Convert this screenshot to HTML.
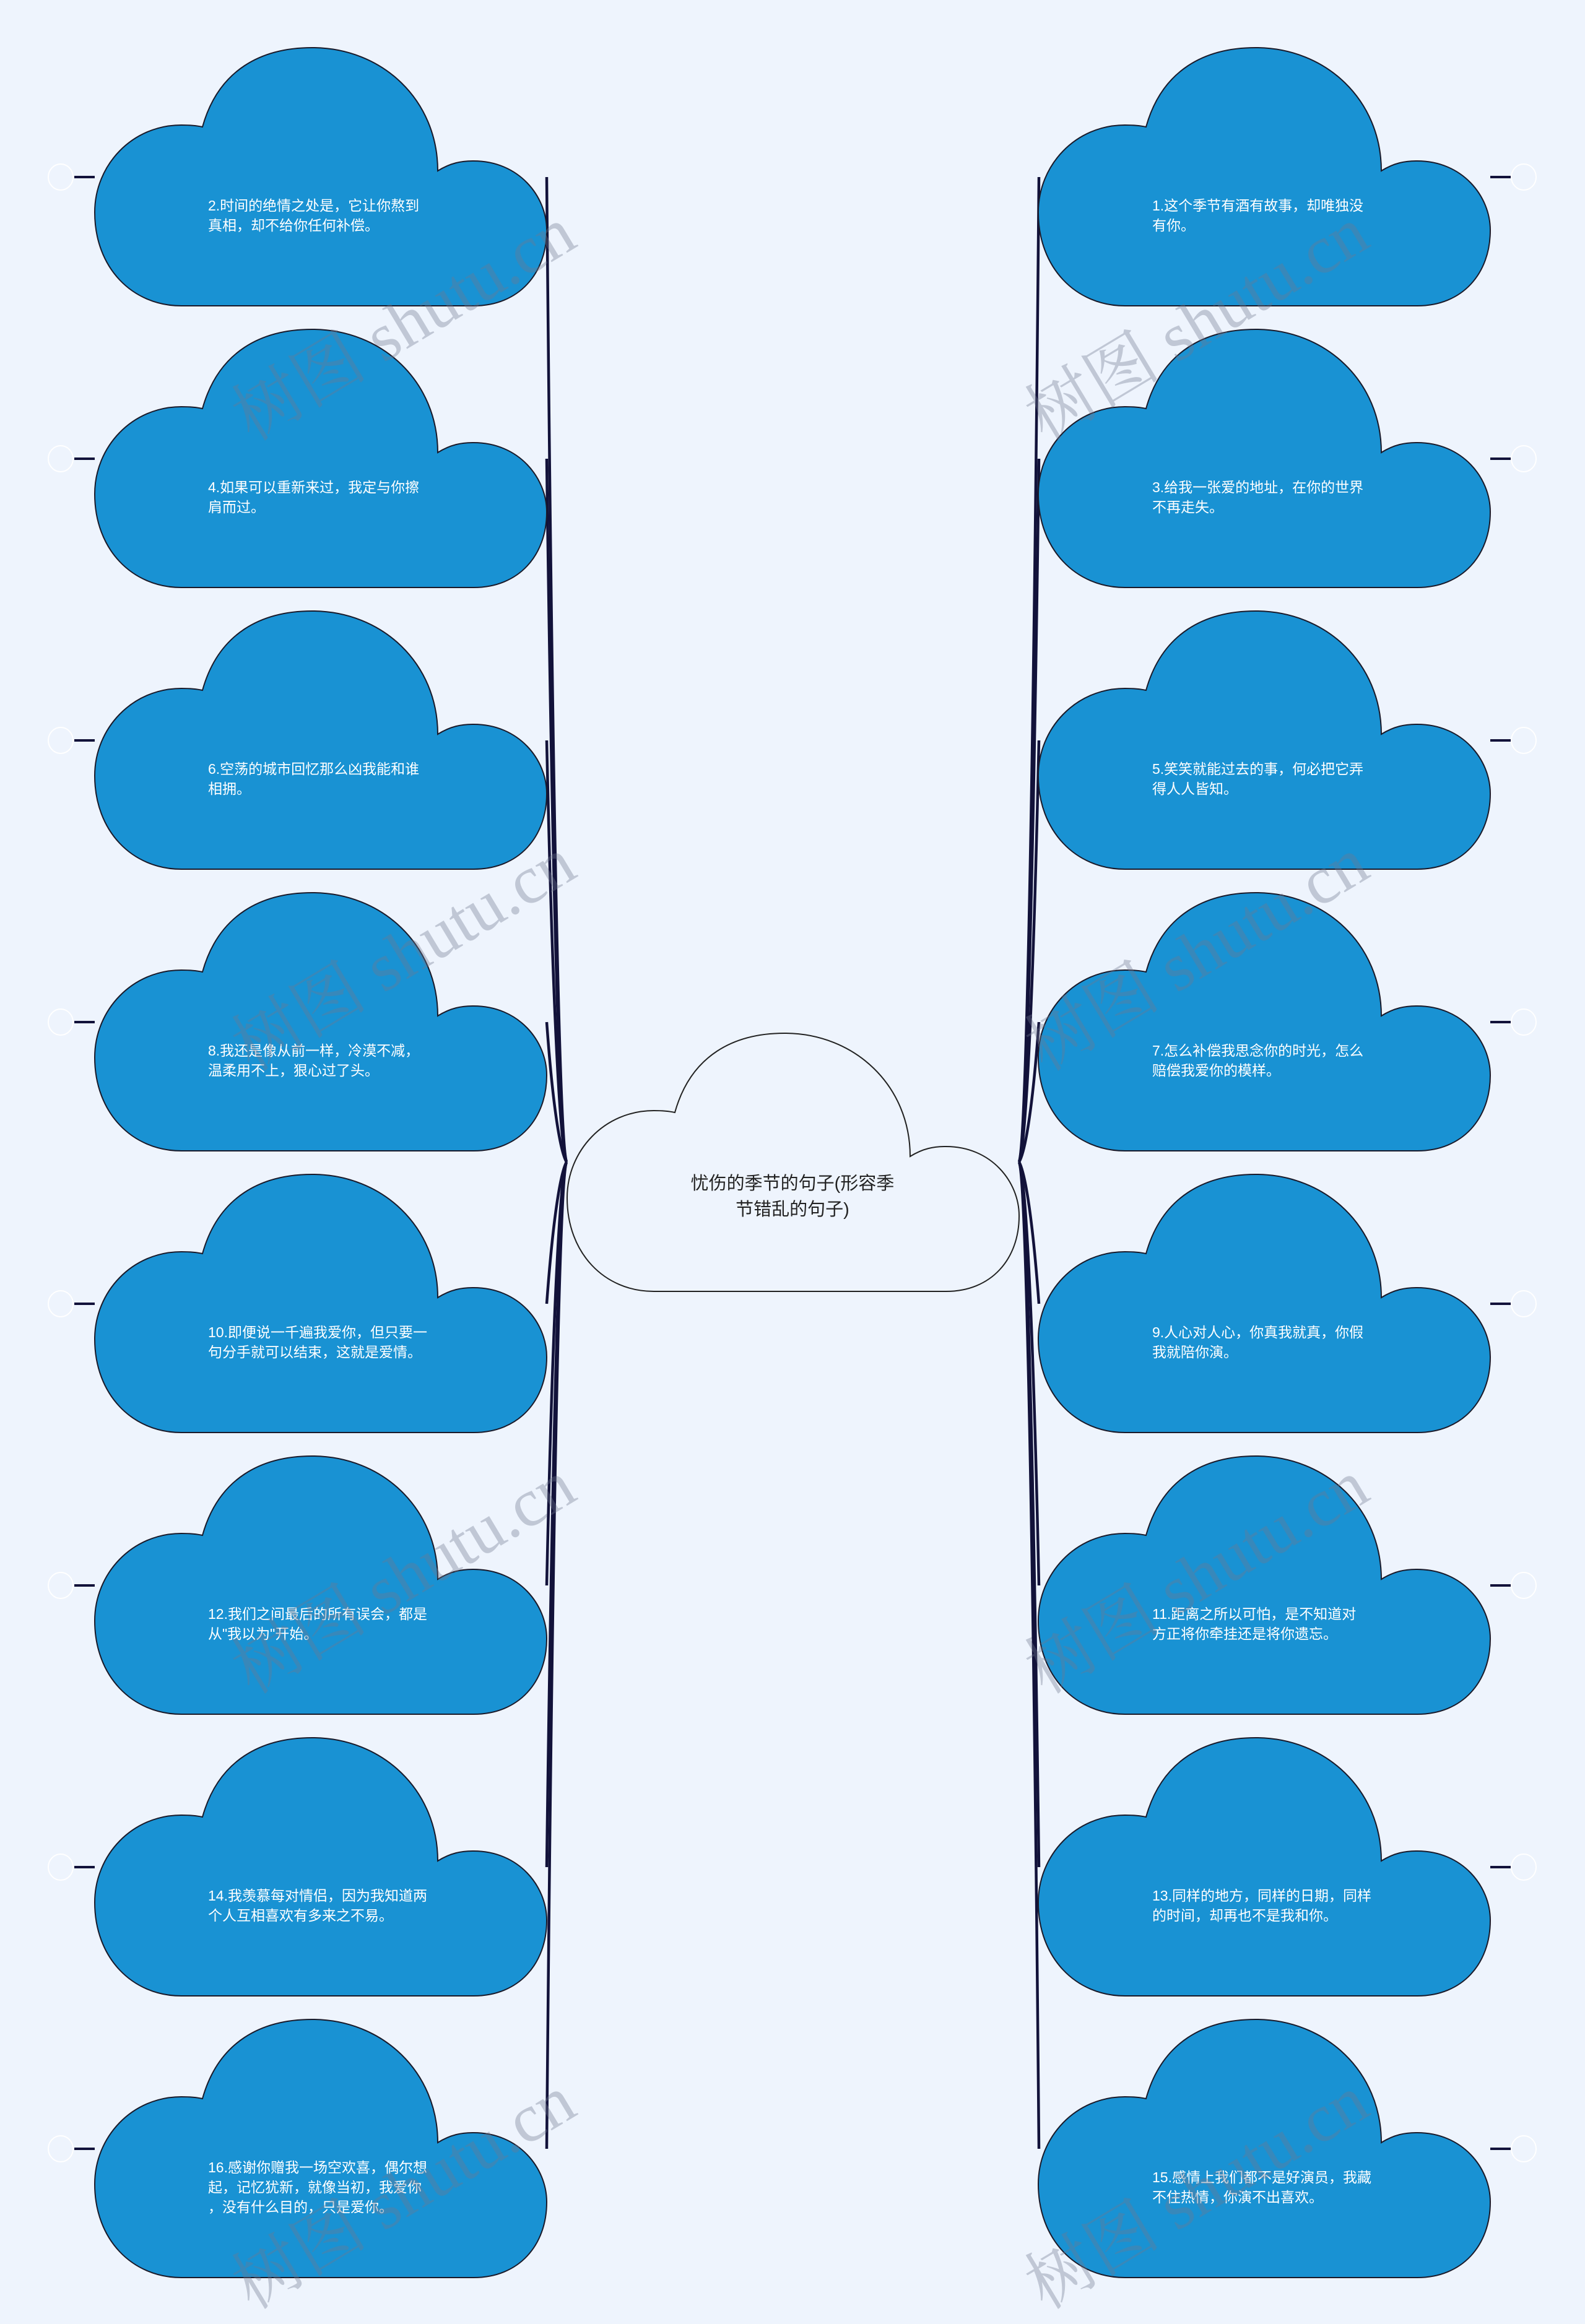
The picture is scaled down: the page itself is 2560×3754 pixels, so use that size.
<!DOCTYPE html>
<html><head><meta charset="utf-8"><style>
body{margin:0;background:#eef4fd;}
#w{position:relative;width:2560px;height:3754px;overflow:hidden;background:#eef4fd;font-family:"Liberation Sans","Noto Sans CJK SC",sans-serif;}
.t{position:absolute;color:#fff;font-size:23px;line-height:32px;transform:translateY(-50%);white-space:nowrap;}
.c{position:absolute;color:#222;font-size:29px;line-height:42px;text-align:center;transform:translate(-50%,-50%);white-space:nowrap;}
.wm{position:absolute;font-family:"Liberation Serif","Noto Serif CJK SC",serif;font-size:110px;color:rgba(110,120,140,0.36);transform:translate(-50%,-50%) rotate(-31deg);white-space:nowrap;}
</style></head><body><div id="w">
<svg width="2560" height="3754" style="position:absolute;left:0;top:0">
<defs>
<path id="cl" d="M174,128 C200,35 270,0 351,0 C465,0 554,85 554,199 C575,186 592,183 612,183 C685,183 730,240 730,295 C730,365 685,417 612,417 L140,417 C60,417 0,355 0,266 C0,190 60,125 140,125 C155,125 165,126 174,128 Z"/>
</defs>
<g fill="none" stroke="#12123a" stroke-width="4.5">
<path d="M883,286 C893,1400 905,1850 915,1877"/>
<path d="M883,741 C893,1500 905,1850 915,1877"/>
<path d="M883,1196 C893,1650 905,1850 915,1877"/>
<path d="M883,1651 C893,1790 905,1860 915,1877"/>
<path d="M883,2106 C893,1970 905,1895 915,1877"/>
<path d="M883,2561 C893,2100 905,1900 915,1877"/>
<path d="M883,3016 C893,2250 905,1900 915,1877"/>
<path d="M883,3471 C893,2350 905,1900 915,1877"/>
<path d="M1678,286 C1668,1400 1656,1850 1646,1877"/>
<path d="M1678,741 C1668,1500 1656,1850 1646,1877"/>
<path d="M1678,1196 C1668,1650 1656,1850 1646,1877"/>
<path d="M1678,1651 C1668,1790 1656,1860 1646,1877"/>
<path d="M1678,2106 C1668,1970 1656,1895 1646,1877"/>
<path d="M1678,2561 C1668,2100 1656,1900 1646,1877"/>
<path d="M1678,3016 C1668,2250 1656,1900 1646,1877"/>
<path d="M1678,3471 C1668,2350 1656,1900 1646,1877"/>
</g>
<g fill="#1992d3" stroke="#1a1a2a" stroke-width="2">
<use href="#cl" x="153" y="77"/><use href="#cl" x="153" y="532"/><use href="#cl" x="153" y="987"/><use href="#cl" x="153" y="1442"/>
<use href="#cl" x="153" y="1897"/><use href="#cl" x="153" y="2352"/><use href="#cl" x="153" y="2807"/><use href="#cl" x="153" y="3262"/>
<use href="#cl" x="1677" y="77"/><use href="#cl" x="1677" y="532"/><use href="#cl" x="1677" y="987"/><use href="#cl" x="1677" y="1442"/>
<use href="#cl" x="1677" y="1897"/><use href="#cl" x="1677" y="2352"/><use href="#cl" x="1677" y="2807"/><use href="#cl" x="1677" y="3262"/>
</g>
<use href="#cl" x="916" y="1669" fill="#eef4fd" stroke="#222" stroke-width="2"/>
<g stroke="#12123a" stroke-width="4">
<path d="M120,286H153M120,741H153M120,1196H153M120,1651H153M120,2106H153M120,2561H153M120,3016H153M120,3471H153"/>
<path d="M2407,286H2440M2407,741H2440M2407,1196H2440M2407,1651H2440M2407,2106H2440M2407,2561H2440M2407,3016H2440M2407,3471H2440"/>
</g>
<g fill="none" stroke="#fff" stroke-width="2">
<ellipse cx="98" cy="286" rx="20" ry="21"/><ellipse cx="98" cy="741" rx="20" ry="21"/><ellipse cx="98" cy="1196" rx="20" ry="21"/><ellipse cx="98" cy="1651" rx="20" ry="21"/>
<ellipse cx="98" cy="2106" rx="20" ry="21"/><ellipse cx="98" cy="2561" rx="20" ry="21"/><ellipse cx="98" cy="3016" rx="20" ry="21"/><ellipse cx="98" cy="3471" rx="20" ry="21"/>
<ellipse cx="2461" cy="286" rx="20" ry="21"/><ellipse cx="2461" cy="741" rx="20" ry="21"/><ellipse cx="2461" cy="1196" rx="20" ry="21"/><ellipse cx="2461" cy="1651" rx="20" ry="21"/>
<ellipse cx="2461" cy="2106" rx="20" ry="21"/><ellipse cx="2461" cy="2561" rx="20" ry="21"/><ellipse cx="2461" cy="3016" rx="20" ry="21"/><ellipse cx="2461" cy="3471" rx="20" ry="21"/>
</g>
</svg>

<div class="t" style="left:336px;top:348px">2.时间的绝情之处是，它让你熬到<br>真相，却不给你任何补偿。</div>
<div class="t" style="left:336px;top:803px">4.如果可以重新来过，我定与你擦<br>肩而过。</div>
<div class="t" style="left:336px;top:1258px">6.空荡的城市回忆那么凶我能和谁<br>相拥。</div>
<div class="t" style="left:336px;top:1713px">8.我还是像从前一样，冷漠不减，<br>温柔用不上，狠心过了头。</div>
<div class="t" style="left:336px;top:2168px">10.即便说一千遍我爱你，但只要一<br>句分手就可以结束，这就是爱情。</div>
<div class="t" style="left:336px;top:2623px">12.我们之间最后的所有误会，都是<br>从"我以为"开始。</div>
<div class="t" style="left:336px;top:3078px">14.我羡慕每对情侣，因为我知道两<br>个人互相喜欢有多来之不易。</div>
<div class="t" style="left:336px;top:3533px">16.感谢你赠我一场空欢喜，偶尔想<br>起，记忆犹新，就像当初，我爱你<br>，没有什么目的，只是爱你。</div>

<div class="t" style="left:1861px;top:348px">1.这个季节有酒有故事，却唯独没<br>有你。</div>
<div class="t" style="left:1861px;top:803px">3.给我一张爱的地址，在你的世界<br>不再走失。</div>
<div class="t" style="left:1861px;top:1258px">5.笑笑就能过去的事，何必把它弄<br>得人人皆知。</div>
<div class="t" style="left:1861px;top:1713px">7.怎么补偿我思念你的时光，怎么<br>赔偿我爱你的模样。</div>
<div class="t" style="left:1861px;top:2168px">9.人心对人心，你真我就真，你假<br>我就陪你演。</div>
<div class="t" style="left:1861px;top:2623px">11.距离之所以可怕，是不知道对<br>方正将你牵挂还是将你遗忘。</div>
<div class="t" style="left:1861px;top:3078px">13.同样的地方，同样的日期，同样<br>的时间，却再也不是我和你。</div>
<div class="t" style="left:1861px;top:3533px">15.感情上我们都不是好演员，我藏<br>不住热情，你演不出喜欢。</div>

<div class="c" style="left:1280px;top:1933px">忧伤的季节的句子(形容季<br>节错乱的句子)</div>

<div class="wm" style="left:647px;top:515px">树图 shutu.cn</div>
<div class="wm" style="left:647px;top:1533px">树图 shutu.cn</div>
<div class="wm" style="left:647px;top:2539px">树图 shutu.cn</div>
<div class="wm" style="left:647px;top:3533px">树图 shutu.cn</div>
<div class="wm" style="left:1928px;top:515px">树图 shutu.cn</div>
<div class="wm" style="left:1928px;top:1533px">树图 shutu.cn</div>
<div class="wm" style="left:1928px;top:2539px">树图 shutu.cn</div>
<div class="wm" style="left:1928px;top:3533px">树图 shutu.cn</div>
</div></body></html>
